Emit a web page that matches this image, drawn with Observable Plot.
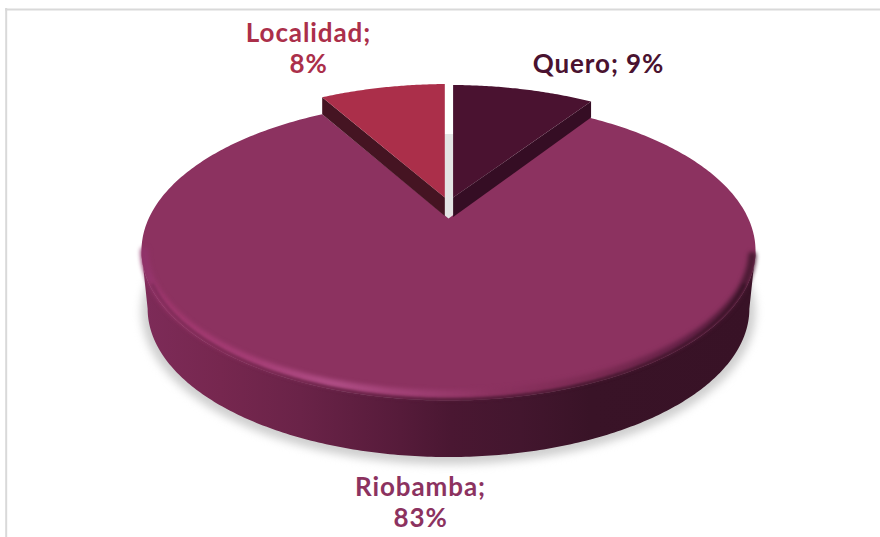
<!DOCTYPE html>
<html>
<head>
<meta charset="utf-8">
<script src="https://cdn.jsdelivr.net/npm/d3@7"></script>
<script src="https://cdn.jsdelivr.net/npm/@observablehq/plot@0.6"></script>
<style>html,body{margin:0;padding:0;background:#fff}svg{display:block}</style>
</head>
<body>
<div id="chart"></div>
<script>
// --- data, in the pie's drawing order (clockwise from 12 o'clock)
const categories = ["Quero", "Riobamba", "Localidad"];
const shares = [9.4, 83, 8.4];
const separators = [" ", "\n", "\n"];
const faceColors = ["#4a1230", "#8c3260", "#ab2f4a"];
const sideColors = ["#350d24", null, "#451422"];

// --- layout
const W = 880, H = 537;
const view = {cx: 448, cy: 218, R: 299.8, a: 142.8, k: 0.2154};
const floor = {cyTop: 250.25, ryScale: 0.99, rxScale: 0.98, drop: 58};
const labelAt = [[598, 63], [420, 501], [308, 47]];
const sliceLift = [
  {edge: 452.6, dx: 2, dy: -16, apexTop: 197, apexBottom: 216.5, wall: 16},
  null,
  {edge: 444.3, dx: 0, dy: -17, apexTop: 197, apexBottom: 215.5, wall: 17}
];
const wallStops = [[145,"#7d2b58"],[220,"#76274f"],[300,"#6a2348"],[400,"#561b3a"],[450,"#4a1732"],[520,"#43162e"],[590,"#391327"],[752,"#381226"]];
const bevelStops = [[145,"#90336a"],[165,"#a2386f"],[250,"#a63e76"],[330,"#b04e86"],[420,"#9e3e72"],[490,"#8c3260"],[600,"#7a2a52"],[680,"#652147"],[752,"#4a1a33"]];

// --- geometry from the values
const arcs = d3.pie().sort(null).value(d => d)(shares);
const project = a => {
  const u = Math.sin(a), v = -Math.cos(a), w = 1 - view.k * v;
  return {x: view.cx + view.R * u / w, y: view.cy + view.a * v / w};
};
const sweep = (a0, a1, n = 180) => d3.range(n + 1).map(i => project(a0 + (a1 - a0) * i / n));
const inset = (p, sx, sy = sx) => ({x: view.cx + (p.x - view.cx) * sx, y: floor.cyTop + (p.y - floor.cyTop) * sy});
const lower = p => ({x: view.cx + (p.x - view.cx) * floor.rxScale, y: floor.cyTop + floor.drop + (p.y - floor.cyTop) * floor.ryScale});

const main = arcs[1];
const mainFace = [{x: view.cx, y: view.cy}, ...sweep(main.startAngle, main.endAngle, 360)];
const sideA = Math.acos(-view.k); // silhouette of the disc
const sideTop = sweep(sideA, 2 * Math.PI - sideA, 240);
const wall = [...sideTop, ...sideTop.slice().reverse().map(lower)];
const bevel = sweep(Math.PI * 0.58, Math.PI * 1.43, 240).map(p => inset(p, 0.99, 0.958));
const edge = sweep(sideA + 0.22, 2 * Math.PI - sideA - 0.22, 240).map(p => inset(p, 0.99, 0.995));
const ground = sweep(0, 2 * Math.PI, 240).map(p => ({x: view.cx + (p.x - view.cx) * 1.0, y: floor.cyTop + floor.drop + 3 + (p.y - floor.cyTop) * 1.02}));

const lifted = i => {
  const s = sliceLift[i], left = s.edge < view.cx;
  const rim = sweep(arcs[i].startAngle, arcs[i].endAngle, 60).map(p => ({
    x: left ? Math.min(p.x + s.dx, s.edge) : Math.max(p.x + s.dx, s.edge),
    y: p.y + s.dy
  }));
  const corner = left ? rim[0] : rim[rim.length - 1];
  return {
    top: [{x: s.edge, y: s.apexTop}, ...rim],
    side: [corner, {x: corner.x, y: corner.y + s.wall}, {x: s.edge, y: s.apexBottom}, {x: s.edge, y: s.apexTop}]
  };
};
const sliceQ = lifted(0), sliceL = lifted(2);

const labels = categories.map((c, i) => ({
  text: `${c};${separators[i]}${Math.round(shares[i])}%`,
  x: labelAt[i][0], y: labelAt[i][1], color: faceColors[i]
}));

const gradient = (defs, id, stops) => {
  const g = defs.append("linearGradient").attr("id", id).attr("gradientUnits", "userSpaceOnUse")
    .attr("x1", stops[0][0]).attr("x2", stops[stops.length - 1][0]).attr("y1", 0).attr("y2", 0);
  const span = stops[stops.length - 1][0] - stops[0][0];
  for (const [x, c] of stops) g.append("stop").attr("offset", (x - stops[0][0]) / span).attr("stop-color", c);
};
const shape = (pts, fill, extra = {}) => Plot.line(pts, {x: "x", y: "y", fill, stroke: "none", ...extra});

const chart = Plot.plot({
  width: W, height: H, margin: 0,
  x: {domain: [0, W], range: [0, W], axis: null},
  y: {domain: [0, H], range: [0, H], axis: null},
  style: {background: "#fff", letterSpacing: "0.9px"},
  marks: [
    () => {
      const defs = d3.create("svg:defs");
      gradient(defs, "wallGrad", wallStops);
      gradient(defs, "bevelGrad", bevelStops);
      return defs.node();
    },
    Plot.ruleY([9], {x1: 5, x2: W, stroke: "#d9d9d9", strokeWidth: 2}),
    Plot.ruleX([5.7], {y1: 8, y2: H, stroke: "#d9d9d9", strokeWidth: 2}),
    shape(ground, "#cfcfcf", {imageFilter: "blur(4px)"}),
    Plot.ruleX([448.4], {y1: 134, y2: 219, stroke: "#e4e4e4", strokeWidth: 9}),
    shape(wall, "url(#wallGrad)"),
    shape(mainFace, faceColors[1]),
    Plot.line(bevel, {x: "x", y: "y", stroke: "url(#bevelGrad)", strokeWidth: 8, imageFilter: "blur(2px)"}),
    Plot.line(edge, {x: "x", y: "y", stroke: "url(#wallGrad)", strokeWidth: 3, imageFilter: "blur(1.5px)"}),
    shape(sliceL.side, sideColors[2]),
    shape(sliceL.top, faceColors[2]),
    shape(sliceQ.side, sideColors[0]),
    shape(sliceQ.top, faceColors[0]),
    Plot.text(labels, {
      x: "x", y: "y", text: "text", fill: "color",
      fontFamily: "Lato", fontWeight: "bold", fontSize: 26, lineHeight: 1.2, textAnchor: "middle"
    })
  ]
});
document.getElementById("chart").append(chart);
</script>
</body>
</html>
